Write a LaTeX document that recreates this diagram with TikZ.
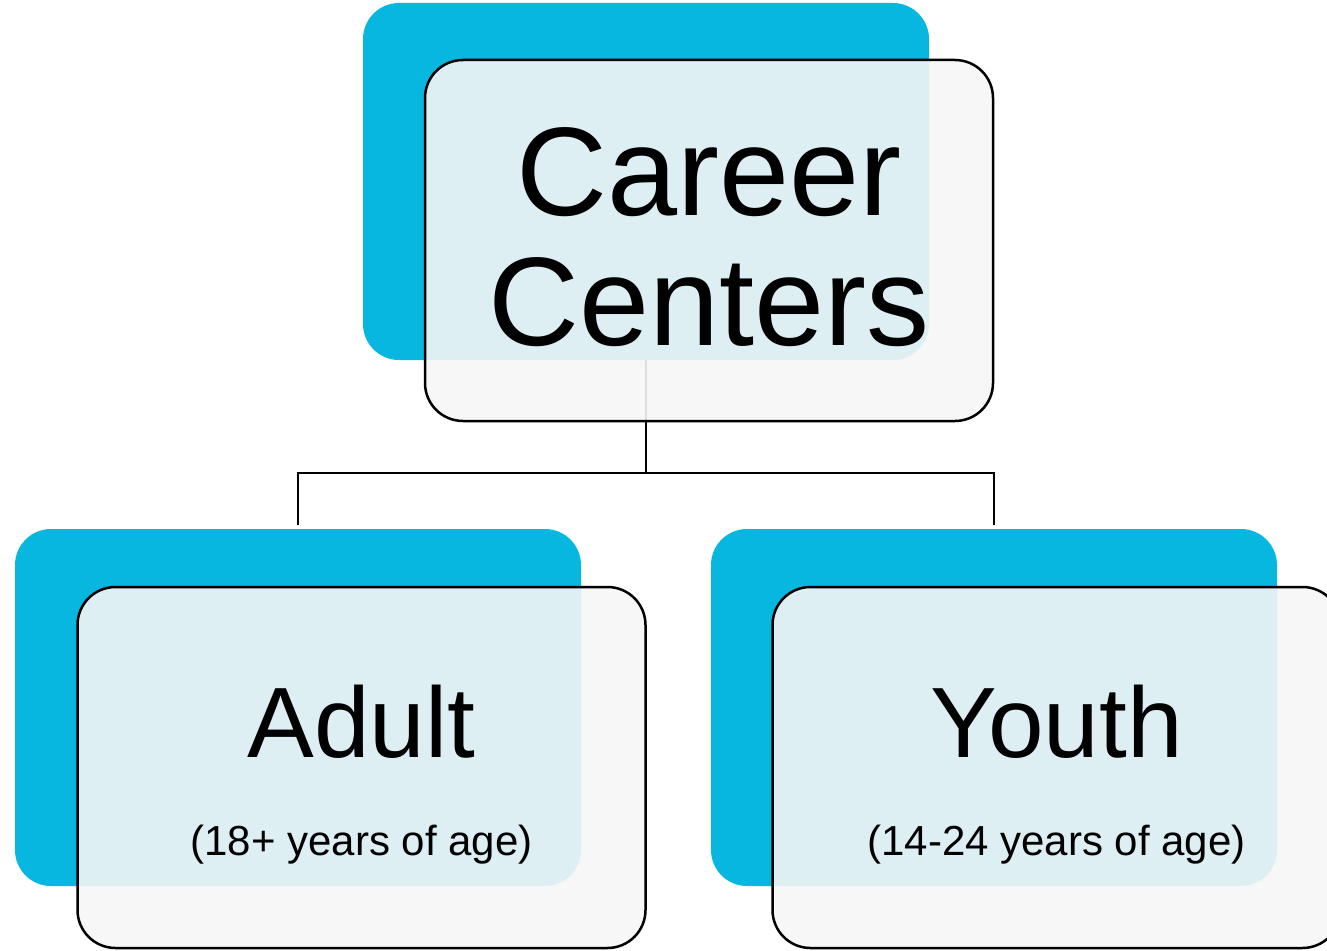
\documentclass[tikz,border=0pt]{standalone}
\usepackage{fontspec}
\setmainfont{Liberation Sans}
\definecolor{cardblue}{RGB}{8,183,224}
\definecolor{cardgray}{RGB}{246,246,246}

\begin{document}
\begin{tikzpicture}[x=1pt,y=-1pt,
    backcard/.style={rectangle, rounded corners=36pt, fill=cardblue,
        inner sep=0pt, outer sep=0pt, minimum width=566pt, minimum height=357pt},
    frontcard/.style={rectangle, rounded corners=38pt, draw=black, line width=2.5pt,
        fill=cardgray, fill opacity=0.9, inner sep=0pt, outer sep=0pt,
        minimum width=568pt, minimum height=361pt},
    wire/.style={draw=black, line width=2pt},
    bigtext/.style={inner sep=0pt, font=\fontsize{100pt}{104pt}\selectfont},
    agetext/.style={inner sep=0pt, font=\fontsize{42pt}{46pt}\selectfont}]

    % Picture frame
    \clip (0,0) rectangle (1327,950);

    % Blue back card(s)
    \node[backcard] (cc back) at (646,181.5) {};
    \node[backcard] (adult back) at (298,707.5) {};
    \node[backcard] (youth back) at (994,707.5) {};

    % Wire(s) from the top card to the two lower cards
    \coordinate (bus) at (0,473);
    \draw[wire] (cc back.south) -- (cc back.south |- bus);
    \draw[wire, shorten >=4pt] (cc back.south |- bus) -| (adult back.north);
    \draw[wire, shorten >=4pt] (cc back.south |- bus) -| (youth back.north);

    % Front card(s)
    \node[frontcard] (cc front) at (709,240.5) {};
    \node[frontcard] (adult front) at (361.5,767.5) {};
    \node[frontcard] (youth front) at (1056.5,767.5) {};

    % Label(s)
    \node[inner sep=0pt, align=center, font=\fontsize{126pt}{130pt}\selectfont]
        (cc label) at (709,237) {Career\\Centers};
    \node[bigtext, anchor=base] (adult label) at (361.5,757) {Adult};
    \node[agetext, anchor=base] (adult age) at (361.5,855) {(18+ years of age)};
    \node[bigtext, anchor=base] (youth label) at (1056.5,757) {Youth};
    \node[agetext, anchor=base] (youth age) at (1056.5,855) {(14-24 years of age)};

\end{tikzpicture}
\end{document}
